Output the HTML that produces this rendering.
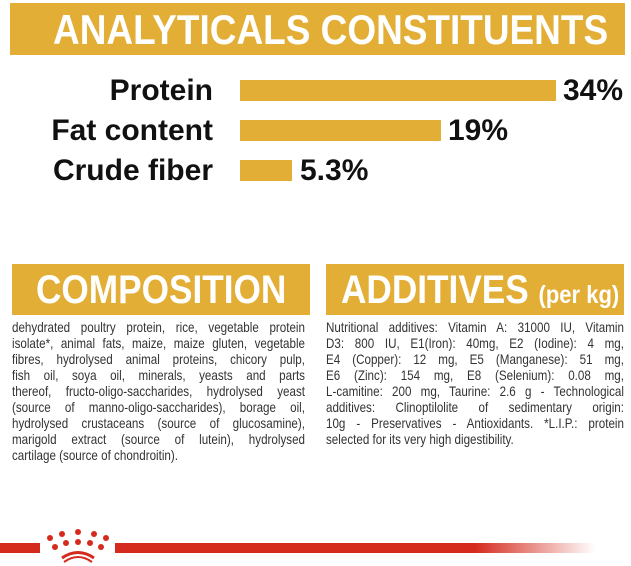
<!DOCTYPE html>
<html><head><meta charset="utf-8"><style>
body{margin:0;width:631px;height:566px;background:#fff;position:relative;overflow:hidden;font-family:"Liberation Sans",sans-serif;}
.a{position:absolute;}
.gold{background:#e3ae35;}
.t{position:absolute;white-space:nowrap;transform-origin:0 0;}
.big{font-weight:bold;color:#111;font-size:30px;line-height:30px;}
.r{position:absolute;right:418px;text-align:right;white-space:nowrap;}
.hd{font-weight:bold;color:#fff;}
.p{position:absolute;font-size:14px;line-height:16px;color:#333;text-align:justify;}
.p span{display:block;text-align-last:justify;}
.p span.l{text-align-last:left;}
</style></head><body>
<div class="a gold" style="left:10px;top:3px;width:615px;height:52px"></div>
<div class="t hd" style="left:53px;top:9px;font-size:42px;line-height:42px;transform:scaleX(0.88)">ANALYTICALS CONSTITUENTS</div>

<div class="a gold" style="left:240px;top:80px;width:316px;height:21px"></div>
<div class="a gold" style="left:240px;top:120px;width:201px;height:21px"></div>
<div class="a gold" style="left:240px;top:160px;width:52px;height:21px"></div>
<div class="r big" style="top:76px">Protein</div>
<div class="r big" style="top:116px">Fat content</div>
<div class="r big" style="top:156px">Crude fiber</div>
<div class="t big" style="left:563px;top:76px">34%</div>
<div class="t big" style="left:448px;top:116px">19%</div>
<div class="t big" style="left:300px;top:156px">5.3%</div>

<div class="a gold" style="left:12px;top:264px;width:298px;height:51px"></div>
<div class="t hd" style="left:36px;top:270px;font-size:40px;line-height:40px;transform:scaleX(0.88)">COMPOSITION</div>
<div class="a gold" style="left:326px;top:264px;width:298px;height:51px"></div>
<div class="t hd" style="left:341px;top:270px;font-size:40px;line-height:40px;transform:scaleX(0.88)">ADDITIVES <span style="font-size:25px">(per kg)</span></div>

<div class="p" style="left:12px;top:319px;width:353px;transform:scaleX(0.83);transform-origin:0 0">
<span>dehydrated poultry protein, rice, vegetable protein</span>
<span>isolate*, animal fats, maize, maize gluten, vegetable</span>
<span>fibres, hydrolysed animal proteins, chicory pulp,</span>
<span>fish oil, soya oil, minerals, yeasts and parts</span>
<span>thereof, fructo-oligo-saccharides, hydrolysed yeast</span>
<span>(source of manno-oligo-saccharides), borage oil,</span>
<span>hydrolysed crustaceans (source of glucosamine),</span>
<span>marigold extract (source of lutein), hydrolysed</span>
<span class="l">cartilage (source of chondroitin).</span>
</div>
<div class="p" style="left:326px;top:319px;width:359px;transform:scaleX(0.83);transform-origin:0 0">
<span>Nutritional additives: Vitamin A: 31000 IU, Vitamin</span>
<span>D3: 800 IU, E1(Iron): 40mg, E2 (Iodine): 4 mg,</span>
<span>E4 (Copper): 12 mg, E5 (Manganese): 51 mg,</span>
<span>E6 (Zinc): 154 mg, E8 (Selenium): 0.08 mg,</span>
<span>L-camitine: 200 mg, Taurine: 2.6 g - Technological</span>
<span>additives: Clinoptilolite of sedimentary origin:</span>
<span>10g - Preservatives - Antioxidants. *L.I.P.: protein</span>
<span class="l">selected for its very high digestibility.</span>
</div>

<div class="a" style="left:0;top:543px;width:40px;height:10px;background:#d52b1e"></div>
<div class="a" style="left:115px;top:543px;width:480px;height:10px;background:linear-gradient(to right,#d52b1e 0%,#d52b1e 75%,rgba(213,43,30,0) 100%)"></div>
<svg class="a" style="left:44px;top:527px" width="68" height="39" viewBox="0 0 68 39">
<g fill="#d52b1e">
<circle cx="6" cy="11" r="3"/><circle cx="18" cy="7" r="3"/><circle cx="34" cy="5" r="3"/><circle cx="50" cy="7" r="3"/><circle cx="62" cy="11" r="3"/>
<circle cx="11" cy="20" r="3"/><circle cx="22" cy="16" r="3"/><circle cx="34" cy="15" r="3"/><circle cx="46" cy="16" r="3"/><circle cx="57" cy="20" r="3"/>
</g>
<path d="M18 31 Q34 20 50 31" stroke="#d52b1e" stroke-width="3" fill="none"/>
<path d="M20 35 Q34 25 48 35" stroke="#d52b1e" stroke-width="2" fill="none"/>
</svg>
</body></html>
